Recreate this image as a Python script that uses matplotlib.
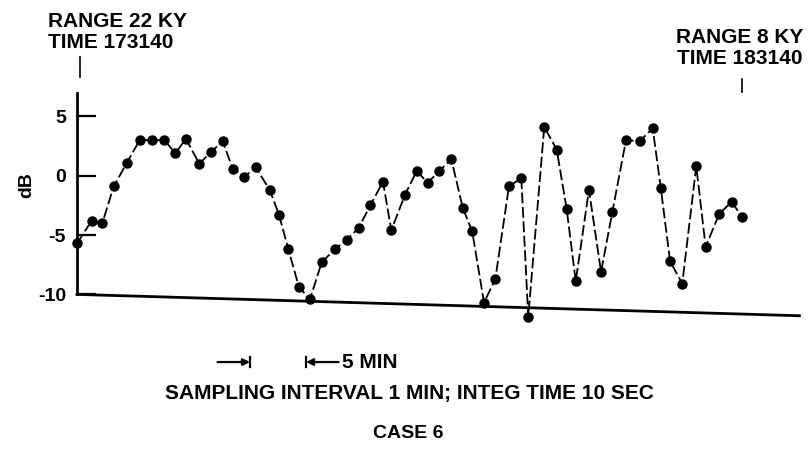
import matplotlib
matplotlib.use('Agg')
import matplotlib.pyplot as plt
from matplotlib.lines import Line2D

plt.rcParams['font.family'] = ['Liberation Sans', 'DejaVu Sans']
plt.rcParams['font.weight'] = 'bold'

# minutes after 173140 (1 min sampling)
minutes = [0.0, 1.31, 2.26, 3.28, 4.46, 5.60, 6.70, 7.79, 8.78, 9.73,
           10.92, 11.96, 13.01, 13.90, 14.91, 15.96, 17.21, 18.04, 18.87, 19.82,
           20.80, 21.85, 23.01, 24.08, 25.15, 26.19, 27.32, 28.06, 29.29, 30.33,
           31.31, 32.35, 33.42, 34.44, 35.29, 36.34, 37.35, 38.57, 39.67, 40.29,
           41.72, 42.83, 43.72, 44.53, 45.71, 46.79, 47.79, 49.02, 50.24, 51.40,
           52.12, 52.95, 54.04, 55.29, 56.13, 57.35, 58.46, 59.38]
level_db = [-5.7, -3.8, -4.0, -0.9, 1.1, 3.0, 3.0, 3.0, 1.9, 3.1,
            1.0, 2.0, 2.9, 0.6, -0.1, 0.7, -1.2, -3.3, -6.2, -9.4,
            -10.4, -7.3, -6.2, -5.4, -4.4, -2.5, -0.5, -4.6, -1.6, 0.4,
            -0.6, 0.4, 1.4, -2.7, -4.7, -10.7, -8.7, -0.9, -0.2, -11.9,
            4.1, 2.2, -2.8, -8.9, -1.2, -8.1, -3.1, 3.0, 2.9, 4.0,
            -1.0, -7.2, -9.1, 0.8, -6.0, -3.2, -2.2, -3.5]

yticks = [5, 0, -5, -10]
ytick_labels = ['5', '0', '-5', '-10']

W, H = 812, 455
fig = plt.figure(figsize=(W / 100, H / 100), dpi=100)


def fx(px):
    return px / W


def fy(py):
    return 1 - py / H


ax = fig.add_axes([fx(77), fy(330), 722.4 / W, 237.4 / H])
ax.set_xlim(0, 64.5)
ax.set_ylim(-13, 7)

ax.plot(minutes, level_db, color='black', lw=1.3, ls=(0, (6, 2)),
        marker='o', ms=6.5, mfc='black', mec='black', clip_on=False)

# baseline, slightly skewed like the scan
ax.plot([0, 64.5], [-10, -11.8], color='black', lw=2, clip_on=False)

for s in ['top', 'right', 'bottom']:
    ax.spines[s].set_visible(False)
ax.spines['left'].set_bounds(-10, 7)
ax.spines['left'].set_linewidth(2)
ax.set_xticks([])
ax.set_yticks(yticks)
ax.set_yticklabels(ytick_labels, fontsize=14, fontweight='bold')
ax.tick_params(axis='y', direction='in', length=14, width=1.6, pad=8)

fig.text(fx(27), fy(185), 'dB', rotation=90, ha='center', va='center',
         fontsize=14, fontweight='bold')

# range / time labels
fig.text(fx(48), fy(12), 'RANGE 22 KY\nTIME 173140', ha='left', va='top',
         fontsize=15, fontweight='bold', linespacing=1.1)
fig.text(fx(803), fy(28), 'RANGE 8 KY\nTIME 183140', ha='right', va='top',
         fontsize=15, fontweight='bold', linespacing=1.1, multialignment='right')
fig.add_artist(Line2D([fx(80), fx(80)], [fy(57), fy(77)], color='black', lw=1.2))
fig.add_artist(Line2D([fx(742), fx(742)], [fy(79), fy(92)], color='black', lw=1.2))

# 5 minute scale
ys = -15.7
t1, t2 = 15.45, 20.45
ax.annotate('', xy=(t1, ys), xytext=(t1 - 2.9, ys), annotation_clip=False,
            arrowprops=dict(arrowstyle='-|>', color='black', lw=1.6,
                            shrinkA=0, shrinkB=0, mutation_scale=10))
ax.annotate('', xy=(t2, ys), xytext=(t2 + 2.9, ys), annotation_clip=False,
            arrowprops=dict(arrowstyle='-|>', color='black', lw=1.6,
                            shrinkA=0, shrinkB=0, mutation_scale=10))
ax.plot([t1, t1], [ys + 0.45, ys - 0.45], color='black', lw=1.6, clip_on=False)
ax.plot([t2, t2], [ys + 0.45, ys - 0.45], color='black', lw=1.6, clip_on=False)
ax.text(t2 + 3.2, ys, '5 MIN', ha='left', va='center', fontsize=15,
        fontweight='bold', clip_on=False)

fig.text(fx(409), fy(394), 'SAMPLING INTERVAL 1 MIN; INTEG TIME 10 SEC',
         ha='center', va='center', fontsize=15, fontweight='bold')
fig.text(fx(408), fy(433), 'CASE 6', ha='center', va='center',
         fontsize=14, fontweight='bold')

fig.savefig('out.png', dpi=100)
